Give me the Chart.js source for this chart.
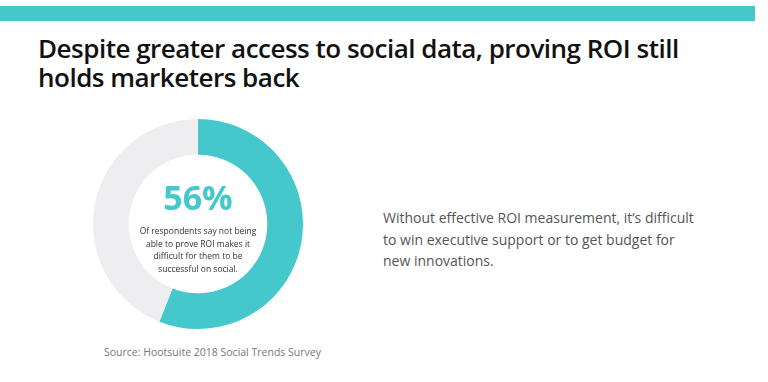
<!DOCTYPE html>
<html><head><meta charset="utf-8">
<script src="https://cdn.jsdelivr.net/npm/chart.js@4"></script>
<style>
html,body{margin:0;padding:0;background:#fff;width:768px;height:382px;overflow:hidden;font-family:"Open Sans",sans-serif;}
#bar{position:absolute;left:0;top:6px;width:755px;height:15px;background:#45C8CC;}
.title{position:absolute;left:38px;font-size:26px;font-weight:600;color:#111;line-height:28px;height:28px;letter-spacing:-0.5px;white-space:nowrap;}
#t1{top:34px;}
#t2{top:63px;}
#wrap{position:absolute;left:93px;top:119px;width:210px;height:210px;}
#pct{position:absolute;left:98px;top:177px;width:200px;text-align:center;font-size:34px;font-weight:700;color:#45C8CC;line-height:40px;}
#sub{position:absolute;left:118px;top:225px;width:160px;text-align:center;font-size:8.5px;color:#333;line-height:12.5px;}
#side{position:absolute;left:383px;top:207px;font-size:14px;color:#555;line-height:21.5px;font-weight:400;}
#src{position:absolute;left:104px;top:345px;font-size:10.5px;color:#777;}
</style></head><body>
<div id="bar"></div>
<div class="title" id="t1">Despite greater access to social data, proving ROI still</div>
<div class="title" id="t2">holds marketers back</div>
<div id="wrap"><canvas id="c" width="210" height="210"></canvas></div>
<div id="pct"></div>
<div id="sub">Of respondents say not being<br>able to prove ROI makes it<br>difficult for them to be<br>successful on social.</div>
<div id="side">Without effective ROI measurement, it’s difficult<br>to win executive support or to get budget for<br>new innovations.</div>
<div id="src">Source: Hootsuite 2018 Social Trends Survey</div>
<script>
const categories = ["Can't prove ROI", "Other"];
const values = [56, 44];
const colors = ["#45C8CC", "#EEEEF0"];
document.getElementById('pct').textContent = values[0] + '%';
new Chart(document.getElementById('c'), {
  type: 'doughnut',
  data: { labels: categories, datasets: [{ data: values, backgroundColor: colors, borderWidth: 0 }] },
  options: {
    responsive: false, animation: false, cutout: '66%',
    plugins: { legend: { display: false }, tooltip: { enabled: false } },
    layout: { padding: 0 }
  }
});
</script>
</body></html>
